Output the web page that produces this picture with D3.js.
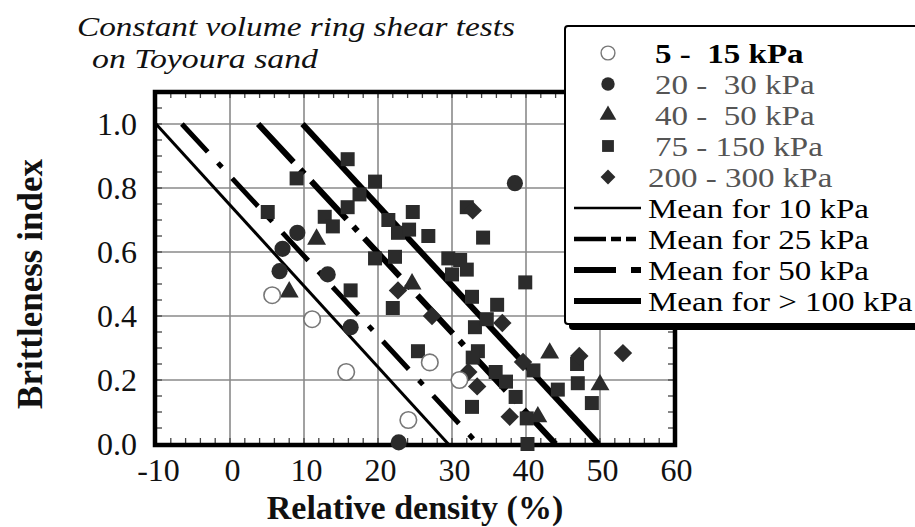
<!DOCTYPE html>
<html>
<head>
<meta charset="utf-8">
<script src="https://cdn.jsdelivr.net/npm/d3@7"></script>
<style>
  html, body { margin: 0; padding: 0; background: #fff; }
  svg { display: block; }
  text { font-family: "Liberation Serif", "DejaVu Serif", serif; white-space: pre; }
</style>
</head>
<body>
<svg id="chart" width="915" height="527"></svg>
<script>
// Brittleness index vs relative density, constant volume ring shear tests on Toyoura sand

// axis ticks
const xTickValues = [-10, 0, 10, 20, 30, 40, 50, 60];
const yTickValues = [0, 0.2, 0.4, 0.6, 0.8, 1.0];

// measured points: [relative density %, brittleness index]
const pts5to15 = [[5.7, 0.465], [11.1, 0.39], [15.7, 0.225], [24.1, 0.075], [27, 0.255], [31, 0.2]];
const pts20to30 = [[9.1, 0.66], [7.1, 0.61], [6.7, 0.54], [13.2, 0.53], [16.3, 0.365], [22.8, 0.005], [38.5, 0.815]];
const pts40to50 = [[11.7, 0.64], [8.0, 0.475], [24.6, 0.5], [43.2, 0.284], [50, 0.185], [41.6, 0.085]];
const pts75to150 = [
  [9, 0.83], [5.1, 0.725], [12.8, 0.71], [13.9, 0.68], [15.9, 0.89], [19.6, 0.82], [17.5, 0.78],
  [15.9, 0.74], [24.7, 0.725], [21.4, 0.7], [22.7, 0.66], [24.2, 0.67], [26.8, 0.65], [19.6, 0.58],
  [22.3, 0.585], [32, 0.74], [34.2, 0.645], [39.9, 0.505], [29.5, 0.58], [31.1, 0.575], [32, 0.545],
  [30, 0.53], [32.7, 0.46], [36.1, 0.435], [16.3, 0.48], [22, 0.425], [33.1, 0.365], [34.7, 0.39],
  [25.4, 0.29], [33.5, 0.29], [32.8, 0.27], [35.9, 0.225], [37.3, 0.195], [38.6, 0.147], [41, 0.23],
  [44.3, 0.17], [46.9, 0.25], [47, 0.19], [48.9, 0.128], [32.7, 0.116], [40.1, 0.08], [40.2, 0.0]
];
const pts200to300 = [
  [32.8, 0.73], [22.7, 0.48], [27.3, 0.4], [36.8, 0.378], [32.2, 0.225], [33.4, 0.18],
  [37.8, 0.085], [39.6, 0.256], [47.2, 0.275], [53.1, 0.284]
];

// series names for the legend
const seriesLabels = ["5 -  15 kPa", "20 -  30 kPa", "40 -  50 kPa", "75 - 150 kPa", "200 - 300 kPa"];

// mean trend lines: relative density where index = 1.0 and where index = 0.0
const meanLabels = ["Mean for 10 kPa", "Mean for 25 kPa", "Mean for 50 kPa", "Mean for > 100 kPa"];
const meanAtOne = [-10, -6.5, 3.8, 9.8];
const meanAtZero = [29.5, 33.5, 44, 49.8];

const svg = d3.select("#chart");

const x = d3.scaleLinear().domain([-10, 60]).range([156, 674]);
const y = d3.scaleLinear().domain([0, 1.1]).range([444, 92]);

const ink = "#2b2b2b";

// grid
const grid = svg.append("g").attr("stroke", "#8a8a8a").attr("stroke-width", 1.6);
grid.selectAll("line.v").data(xTickValues.filter(d => d > -10 && d < 60)).join("line")
  .attr("x1", d => x(d)).attr("x2", d => x(d)).attr("y1", y(1.1)).attr("y2", y(0));
grid.selectAll("line.h").data(yTickValues.filter(d => d > 0)).join("line")
  .attr("x1", x(-10)).attr("x2", x(60)).attr("y1", d => y(d)).attr("y2", d => y(d));

// inward minor ticks on all four sides
const minorX = d3.range(-10, 60.001, 2);
const minorY = d3.range(0, 1.1001, 0.05);
const tk = svg.append("g").attr("stroke", "#444").attr("stroke-width", 1.3);
tk.selectAll("line.b").data(minorX).join("line")
  .attr("x1", d => x(d)).attr("x2", d => x(d)).attr("y1", y(0)).attr("y2", y(0) - 6);
tk.selectAll("line.t").data(minorX).join("line")
  .attr("x1", d => x(d)).attr("x2", d => x(d)).attr("y1", y(1.1)).attr("y2", y(1.1) + 6);
tk.selectAll("line.l").data(minorY).join("line")
  .attr("x1", x(-10)).attr("x2", x(-10) + 6).attr("y1", d => y(d)).attr("y2", d => y(d));
tk.selectAll("line.r").data(minorY).join("line")
  .attr("x1", x(60)).attr("x2", x(60) - 6).attr("y1", d => y(d)).attr("y2", d => y(d));

// axes (labels only; frame drawn separately)
const xAxis = d3.axisBottom(x).tickValues(xTickValues).tickSize(0).tickPadding(0)
  .tickFormat(d => String(d));
const gx = svg.append("g").attr("transform", `translate(2,${y(0)})`).call(xAxis);
gx.select(".domain").remove();
gx.selectAll("text").attr("font-size", 32).attr("fill", "#111")
  .attr("font-family", "Liberation Serif").attr("dy", 0).attr("y", 37);

const yAxis = d3.axisLeft(y).tickValues(yTickValues).tickSize(0).tickPadding(0)
  .tickFormat(d3.format(".1f"));
const gy = svg.append("g").attr("transform", `translate(137,0)`).call(yAxis);
gy.select(".domain").remove();
gy.selectAll("text").attr("font-size", 32).attr("fill", "#111")
  .attr("font-family", "Liberation Serif").attr("dy", "0.34em").attr("x", 0);

// mean lines
const meanStyles = [
  { w: 3, dash: null },
  { w: 5, dash: "38,15,6,15" },
  { w: 6, dash: "52,10,6,10" },
  { w: 6, dash: null }
];
meanLabels.forEach((lab, i) => {
  svg.append("line")
    .attr("x1", x(meanAtOne[i])).attr("y1", y(1))
    .attr("x2", x(meanAtZero[i])).attr("y2", y(0))
    .attr("stroke", "#000").attr("stroke-width", meanStyles[i].w)
    .attr("stroke-dasharray", meanStyles[i].dash);
});

// frame
svg.append("rect")
  .attr("x", x(-10) - 1).attr("y", y(1.1))
  .attr("width", x(60) - x(-10) + 2).attr("height", y(0) - y(1.1) + 1)
  .attr("fill", "none").attr("stroke", "#000").attr("stroke-width", 4.5);

// markers
function drawSeries(data, kind, size) {
  const g = svg.append("g");
  if (kind === "open") {
    g.selectAll("circle").data(data).join("circle")
      .attr("cx", d => x(d[0])).attr("cy", d => y(d[1])).attr("r", Math.sqrt(size / Math.PI))
      .attr("fill", "#fff").attr("stroke", "#777").attr("stroke-width", 1.6);
    return;
  }
  let sym;
  if (kind === "circle") sym = d3.symbol(d3.symbolCircle, size);
  if (kind === "triangle") sym = d3.symbol(d3.symbolTriangle, size);
  if (kind === "square") sym = d3.symbol(d3.symbolSquare, size);
  if (kind === "diamond") sym = d3.symbol(d3.symbolSquare, size);
  g.selectAll("path").data(data).join("path")
    .attr("d", sym)
    .attr("transform", d => `translate(${x(d[0])},${y(d[1])})` + (kind === "diamond" ? " rotate(45)" : ""))
    .attr("fill", ink);
}
drawSeries(pts75to150, "square", 196);
drawSeries(pts200to300, "diamond", 170);
drawSeries(pts40to50, "triangle", 155);
drawSeries(pts20to30, "circle", 205);
drawSeries(pts5to15, "open", 215);

// legend box
const lg = svg.append("g");
lg.append("rect").attr("x", 569).attr("y", 30).attr("width", 360).attr("height", 300)
  .attr("rx", 4).attr("fill", "#000");
lg.append("rect").attr("x", 565).attr("y", 26).attr("width", 360).attr("height", 298)
  .attr("rx", 3).attr("fill", "#fff").attr("stroke", "#000").attr("stroke-width", 2);

const rowY = i => 63 + i * 31;
const symX = 608;
const kinds = ["open", "circle", "triangle", "square", "diamond"];
const legendSizes = { open: 150, circle: 140, triangle: 120, square: 140, diamond: 110 };
seriesLabels.forEach((lab, i) => {
  const cy = rowY(i) - 10;
  const k = kinds[i];
  if (k === "open") {
    lg.append("circle").attr("cx", symX).attr("cy", cy).attr("r", Math.sqrt(legendSizes.open / Math.PI))
      .attr("fill", "#fff").attr("stroke", "#777").attr("stroke-width", 1.4);
  } else {
    const t = { circle: d3.symbolCircle, triangle: d3.symbolTriangle, square: d3.symbolSquare, diamond: d3.symbolSquare }[k];
    lg.append("path").attr("d", d3.symbol(t, legendSizes[k])())
      .attr("transform", `translate(${symX},${cy})` + (k === "diamond" ? " rotate(45)" : ""))
      .attr("fill", ink);
  }
  lg.append("g").attr("transform", `translate(${i === 4 ? 648 : 655},${rowY(i)}) scale(1.18,1)`)
    .append("text").attr("font-size", 28)
    .attr("fill", i === 0 ? "#000" : "#555")
    .attr("font-weight", i === 0 ? "bold" : "normal")
    .text(lab);
});

const sampleDash = [null, "32,5,10,5,10", "42,15,10", null];
const sampleW = [2.5, 4.5, 6, 6];
meanLabels.forEach((lab, i) => {
  const r = i + 5;
  lg.append("line").attr("x1", 574).attr("x2", 641)
    .attr("y1", rowY(r) - 10).attr("y2", rowY(r) - 10)
    .attr("stroke", "#000").attr("stroke-width", sampleW[i])
    .attr("stroke-dasharray", sampleDash[i]);
  lg.append("g").attr("transform", `translate(648,${rowY(r)}) scale(1.18,1)`)
    .append("text").attr("font-size", 28).attr("fill", "#000").text(lab);
});

// titles (two italic lines, stretched to their set widths)
svg.append("text").attr("x", 77).attr("y", 36).attr("font-size", 28)
  .attr("font-style", "italic").attr("fill", "#111")
  .attr("textLength", 438).attr("lengthAdjust", "spacingAndGlyphs")
  .text("Constant volume ring shear tests");
svg.append("text").attr("x", 92).attr("y", 68).attr("font-size", 28)
  .attr("font-style", "italic").attr("fill", "#111")
  .attr("textLength", 226).attr("lengthAdjust", "spacingAndGlyphs")
  .text("on Toyoura sand");

svg.append("text").attr("x", 415).attr("y", 519).attr("text-anchor", "middle")
  .attr("font-size", 34).attr("font-weight", "bold").attr("fill", "#111")
  .text("Relative density (%)");

svg.append("text").attr("transform", "translate(42,284) rotate(-90)")
  .attr("text-anchor", "middle").attr("font-size", 35).attr("font-weight", "bold").attr("fill", "#111")
  .text("Brittleness index");
</script>
</body>
</html>
